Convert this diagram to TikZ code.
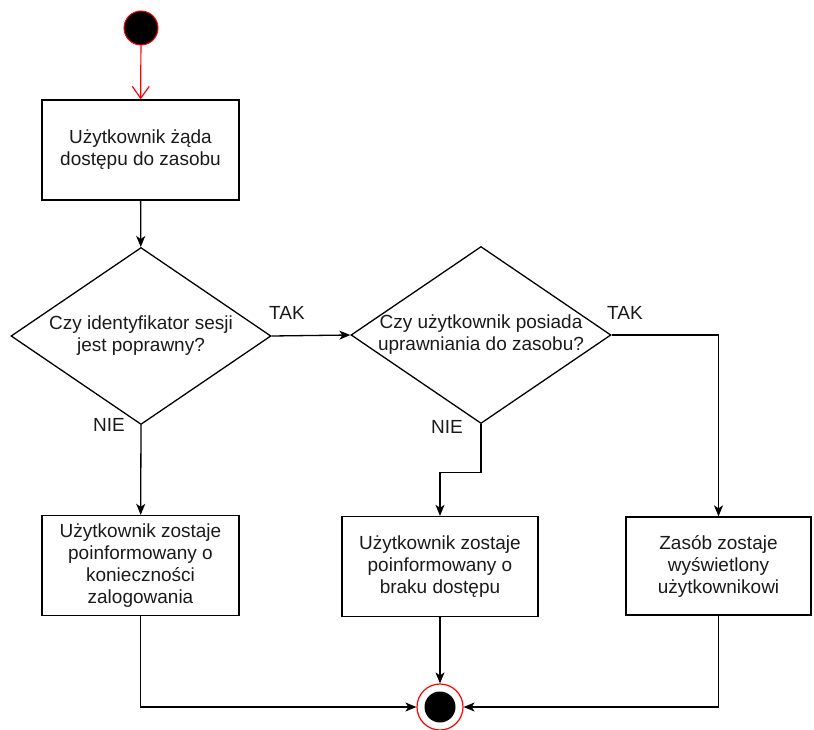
\documentclass[tikz,border=0pt]{standalone}
\usepackage{fontspec}
\setmainfont{Liberation Sans}
\definecolor{flRed}{HTML}{FF0000}
\definecolor{flInk}{HTML}{000000}
\definecolor{flText}{HTML}{1A1A1A}
\usetikzlibrary{positioning,arrows.meta,shapes.geometric}

\tikzset{
  txt/.style={font=\fontsize{19}{22}\selectfont, text=flText, align=center},
  action/.style={txt, draw=flInk, line width=1.3pt, minimum width=197pt, minimum height=100pt, inner sep=0pt},
  decision/.style={diamond, draw=flInk, line width=1.3pt, minimum width=260pt, minimum height=177pt, inner sep=0pt},
  lbl/.style={txt},
  flow/.style={draw=flInk, line width=1.3pt, -{Stealth[length=11pt,width=9pt,inset=3pt]}},
  startflow/.style={draw=flRed, line width=1.2pt, -{Straight Barb[length=12pt,width=17pt]}},
  startdot/.style={circle, fill=black, draw=flRed, line width=1pt, minimum size=34pt, inner sep=0pt},
  endring/.style={circle, draw=flRed, line width=1.2pt, minimum size=46pt, inner sep=0pt},
  enddot/.style={circle, fill=black, minimum size=31pt, inner sep=0pt}
}

\begin{document}
\begin{tikzpicture}[x=1pt,y=-1pt]
  \useasboundingbox (0,0) rectangle (814,730);

  \node[startdot] (start) at (141,28) {};
  \node[action] (zadanie) at (140.5,150) {Użytkownik żąda\\dostępu do zasobu};

  % decyzje
  \node[decision] (sesja) at (141,336) {};
  \node[txt] (sesjatxt) at (sesja) {Czy identyfikator sesji\\jest poprawny?};
  \node[decision] (prawa) at (481,335) {};
  \node[txt] (prawatxt) at (prawa) {Czy użytkownik posiada\\uprawniania do zasobu?};

  \node[action] (logowanie) at (140.5,565.5) {Użytkownik zostaje\\poinformowany o\\konieczności\\zalogowania};
  \node[action, minimum width=196pt] (brak) at (440,566.5) {Użytkownik zostaje\\poinformowany o\\braku dostępu};
  \node[action, minimum width=185pt, minimum height=98pt] (zasob) at (718.5,566) {Zasób zostaje\\wyświetlony\\użytkownikowi};

  \node[endring] (koniec) at (440,707) {};
  \node[enddot] (koniecdot) at (koniec) {};

  \node[lbl] (tak1) at (287,313) {TAK};
  \node[lbl] (nie1) at (109,425) {NIE};
  \node[lbl] (tak2) at (625,313) {TAK};
  \node[lbl] (nie2) at (447,427) {NIE};

  \draw[startflow] (start) -- (zadanie);
  \draw[flow] (zadanie) -- (sesja);
  \draw[flow] (sesja.east) -- (prawa.west);
  \draw[flow] (sesja.south) -- (logowanie);
  \draw[flow] (prawa.south) -- ++(0,48) -| (brak.north);
  \draw[flow] (prawa.east) -| (zasob.north);

  \draw[flow] (logowanie.south) |- (koniec.west);
  \draw[flow] (brak.south) -- (koniec.north);
  \draw[flow] (zasob.south) |- (koniec.east);
\end{tikzpicture}
\end{document}
